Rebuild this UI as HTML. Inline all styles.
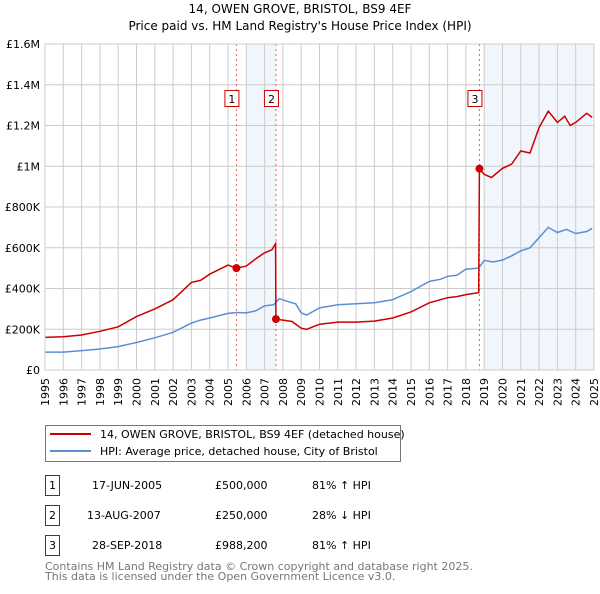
<!DOCTYPE html>
<html><head><meta charset="utf-8"><style>
body{margin:0;background:#fff;font-family:"DejaVu Sans","Liberation Sans",sans-serif;}
svg text{font-family:"DejaVu Sans","Liberation Sans",sans-serif;}
</style></head><body>
<svg id="c" width="600" height="590" xmlns="http://www.w3.org/2000/svg">
<text x="300" y="13" font-size="12" text-anchor="middle">14, OWEN GROVE, BRISTOL, BS9 4EF</text>
<text x="300" y="30" font-size="12" text-anchor="middle">Price paid vs. HM Land Registry's House Price Index (HPI)</text>
<g id="plot"></g>
<g>
<rect x="45.5" y="425.5" width="355" height="36" fill="#fff" stroke="#777"/>
<line x1="50" y1="434" x2="91" y2="434" stroke="#cc0000" stroke-width="2"/>
<text x="100" y="438" font-size="11">14, OWEN GROVE, BRISTOL, BS9 4EF (detached house)</text>
<line x1="50" y1="451" x2="91" y2="451" stroke="#5b8fd4" stroke-width="2"/>
<text x="100" y="455" font-size="11">HPI: Average price, detached house, City of Bristol</text>
</g>
<g font-size="11">
<rect x="45.5" y="475.5" width="14" height="20" fill="#fff" stroke="#cc0000"/><text x="52.5" y="489" text-anchor="middle">1</text>
<text x="92" y="489">17-JUN-2005</text><text x="215" y="489">£500,000</text><text x="312" y="489">81% ↑ HPI</text>
<rect x="45.5" y="505.5" width="14" height="20" fill="#fff" stroke="#cc0000"/><text x="52.5" y="519" text-anchor="middle">2</text>
<text x="87" y="519">13-AUG-2007</text><text x="215" y="519">£250,000</text><text x="312" y="519">28% ↓ HPI</text>
<rect x="45.5" y="535.5" width="14" height="20" fill="#fff" stroke="#cc0000"/><text x="52.5" y="549" text-anchor="middle">3</text>
<text x="92" y="549">28-SEP-2018</text><text x="215" y="549">£988,200</text><text x="312" y="549">81% ↑ HPI</text>
</g>
<text x="45" y="570" font-size="11" fill="#777">Contains HM Land Registry data © Crown copyright and database right 2025.</text>
<text x="45" y="580" font-size="11" fill="#777">This data is licensed under the Open Government Licence v3.0.</text>
</svg>
<script>
const yTicks=[0,200000,400000,600000,800000,1000000,1200000,1400000,1600000];
const yLabels=["£0","£200K","£400K","£600K","£800K","£1M","£1.2M","£1.4M","£1.6M"];
const xYears=[1995,1996,1997,1998,1999,2000,2001,2002,2003,2004,2005,2006,2007,2008,2009,2010,2011,2012,2013,2014,2015,2016,2017,2018,2019,2020,2021,2022,2023,2024,2025];
const hpiX=[1995,1996,1997,1998,1999,2000,2001,2002,2003,2003.5,2004,2005,2005.5,2006,2006.5,2007,2007.5,2007.8,2008.3,2008.7,2009,2009.3,2010,2011,2012,2013,2014,2015,2016,2016.6,2017,2017.5,2018,2018.7,2019,2019.5,2020,2020.5,2021,2021.5,2022,2022.5,2023,2023.5,2024,2024.6,2024.9];
const hpiY=[88000,88000,95000,103000,115000,135000,158000,185000,230000,245000,255000,278000,282000,280000,290000,315000,320000,350000,335000,325000,280000,270000,305000,320000,325000,330000,345000,385000,435000,445000,460000,465000,495000,500000,538000,530000,540000,560000,585000,600000,650000,700000,675000,690000,670000,680000,695000];
const redX=[1995,1996,1997,1998,1999,2000,2001,2002,2003,2003.5,2004,2005,2005.46,2006,2006.5,2007,2007.4,2007.6,2007.62,2008,2008.5,2009,2009.3,2010,2011,2012,2013,2014,2015,2016,2017,2017.5,2018,2018.7,2018.74,2019,2019.4,2020,2020.5,2021,2021.5,2022,2022.5,2023,2023.4,2023.7,2024,2024.6,2024.9];
const redY=[160000,163000,172000,190000,212000,262000,300000,345000,430000,440000,470000,515000,500000,510000,545000,575000,590000,620000,250000,245000,238000,205000,200000,225000,235000,235000,240000,255000,285000,330000,355000,360000,370000,380000,988200,960000,945000,990000,1010000,1075000,1065000,1190000,1270000,1215000,1245000,1200000,1215000,1260000,1240000];
const saleX=[2005.46,2007.62,2018.74];
const saleY=[500000,250000,988200];
const saleLabels=["1","2","3"];
const L=45,R=594,T=44,B=370;
const xs=y=>L+(y-1995)/30*(R-L);
const ys=v=>B-v/1600000*(B-T);
const NS="http://www.w3.org/2000/svg";
const g=document.getElementById('plot');
function mk(t,a){const e=document.createElementNS(NS,t);for(const k in a)e.setAttribute(k,a[k]);g.appendChild(e);return e;}
let s=mk('rect',{x:xs(2006),y:T,width:xs(2007.62)-xs(2006),height:B-T,fill:'#eef2fb',opacity:0.8});


s=mk('rect',{x:xs(2019),y:T,width:R-xs(2019),height:B-T,fill:'#eef2fb',opacity:0.8});


xYears.forEach(y=>{const l=mk('line',{x1:xs(y),x2:xs(y),y1:T,y2:B,stroke:'#ccc'});


const t=mk('text',{x:0,y:0,'font-size':11,'text-anchor':'end',transform:`translate(${xs(y)+4},${B+8}) rotate(-90)`});t.textContent=y;

});
yTicks.forEach((v,i)=>{const l=mk('line',{x1:L,x2:R,y1:ys(v),y2:ys(v),stroke:'#ccc'});


const t=mk('text',{x:L-5,y:ys(v)+4,'font-size':11,'text-anchor':'end'});t.textContent=yLabels[i];

});
saleX.forEach((x,i)=>{const l=mk('line',{x1:xs(x),x2:xs(x),y1:T,y2:B,stroke:'#f06060','stroke-dasharray':'2,3'});

});
const pts=(X,Y)=>X.map((x,i)=>xs(x).toFixed(1)+','+ys(Y[i]).toFixed(1)).join(' ');
let p=mk('polyline',{points:pts(hpiX,hpiY),fill:'none',stroke:'#5b8fd4','stroke-width':1.5});


p=mk('polyline',{points:pts(redX,redY),fill:'none',stroke:'#cc0000','stroke-width':1.5});


saleX.forEach((x,i)=>{const c=mk('circle',{cx:xs(x),cy:ys(saleY[i]),r:4,fill:'#cc0000'});


const bx=xs(x)-11;const r=mk('rect',{x:bx-0.5,y:90.5,width:14,height:16,fill:'#fff',stroke:'#cc0000'});


const t=mk('text',{x:bx+6.5,y:103,'font-size':11,'text-anchor':'middle'});t.textContent=saleLabels[i];

});
const ax=mk('rect',{x:L,y:T,width:R-L,height:B-T,fill:'none',stroke:'#ccc'});


</script>
</body></html>
